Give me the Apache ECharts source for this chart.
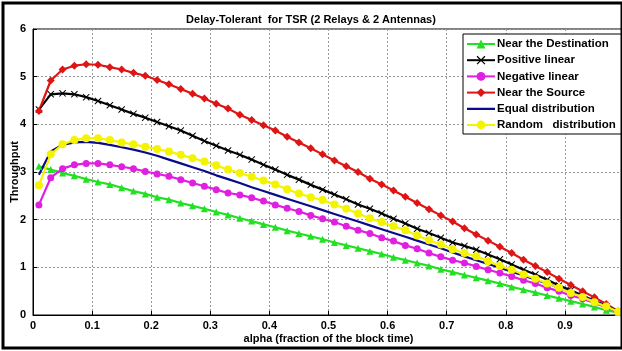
<!DOCTYPE html>
<html>
<head>
<meta charset="utf-8">
<script src="https://cdn.jsdelivr.net/npm/echarts@6/dist/echarts.min.js"></script>
<style>
  html, body { margin: 0; padding: 0; background: #fff; }
  #chart { width: 622px; height: 351px; }
</style>
</head>
<body>
<div id="chart"></div>
<script>
// alpha = fraction of the block time given to energy harvesting
var alpha = [0.01, 0.03, 0.05, 0.07, 0.09, 0.11, 0.13, 0.15, 0.17, 0.19,
             0.21, 0.23, 0.25, 0.27, 0.29, 0.31, 0.33, 0.35, 0.37, 0.39,
             0.41, 0.43, 0.45, 0.47, 0.49, 0.51, 0.53, 0.55, 0.57, 0.59,
             0.61, 0.63, 0.65, 0.67, 0.69, 0.71, 0.73, 0.75, 0.77, 0.79,
             0.81, 0.83, 0.85, 0.87, 0.89, 0.91, 0.93, 0.95, 0.97, 0.99];

var nearDestination = [3.12, 3.05, 2.98, 2.92, 2.85, 2.79, 2.74, 2.67, 2.60, 2.54,
                       2.47, 2.42, 2.35, 2.29, 2.23, 2.16, 2.10, 2.03, 1.97, 1.90,
                       1.84, 1.77, 1.71, 1.65, 1.59, 1.52, 1.46, 1.40, 1.34, 1.28,
                       1.21, 1.15, 1.09, 1.03, 0.96, 0.90, 0.84, 0.78, 0.72, 0.66,
                       0.59, 0.53, 0.47, 0.41, 0.35, 0.29, 0.23, 0.17, 0.10, 0.05];

var positiveLinear = [4.31, 4.63, 4.65, 4.63, 4.57, 4.49, 4.40, 4.31, 4.22, 4.14,
                      4.05, 3.96, 3.87, 3.76, 3.65, 3.55, 3.45, 3.36, 3.26, 3.15,
                      3.05, 2.94, 2.84, 2.73, 2.63, 2.53, 2.43, 2.32, 2.23, 2.13,
                      2.02, 1.92, 1.81, 1.72, 1.62, 1.52, 1.45, 1.37, 1.27, 1.17,
                      1.06, 0.95, 0.85, 0.74, 0.62, 0.52, 0.41, 0.29, 0.18, 0.07];

var negativeLinear = [2.31, 2.88, 3.07, 3.15, 3.18, 3.18, 3.15, 3.11, 3.07, 3.01,
                      2.96, 2.91, 2.84, 2.77, 2.70, 2.63, 2.56, 2.52, 2.46, 2.39,
                      2.31, 2.24, 2.17, 2.09, 2.02, 1.95, 1.86, 1.78, 1.71, 1.62,
                      1.55, 1.46, 1.39, 1.30, 1.22, 1.15, 1.09, 1.02, 0.95, 0.88,
                      0.81, 0.73, 0.66, 0.57, 0.50, 0.41, 0.34, 0.25, 0.17, 0.07];

var nearSource = [4.28, 4.92, 5.15, 5.23, 5.26, 5.25, 5.20, 5.15, 5.08, 5.02,
                  4.93, 4.84, 4.74, 4.64, 4.54, 4.43, 4.33, 4.20, 4.09, 3.98,
                  3.87, 3.74, 3.62, 3.50, 3.37, 3.24, 3.12, 3.00, 2.86, 2.74,
                  2.61, 2.48, 2.35, 2.22, 2.09, 1.96, 1.82, 1.69, 1.56, 1.43,
                  1.30, 1.16, 1.03, 0.90, 0.76, 0.63, 0.50, 0.37, 0.23, 0.08];

var equalDistribution = [2.94, 3.43, 3.57, 3.62, 3.63, 3.61, 3.57, 3.52, 3.47, 3.41,
                         3.34, 3.26, 3.18, 3.10, 3.02, 2.93, 2.85, 2.77, 2.68, 2.60,
                         2.52, 2.44, 2.36, 2.28, 2.20, 2.12, 2.04, 1.96, 1.88, 1.80,
                         1.72, 1.64, 1.56, 1.48, 1.40, 1.31, 1.23, 1.15, 1.07, 0.99,
                         0.91, 0.83, 0.74, 0.66, 0.57, 0.49, 0.40, 0.30, 0.20, 0.07];

var randomDistribution = [2.72, 3.37, 3.58, 3.67, 3.71, 3.71, 3.67, 3.62, 3.58, 3.53,
                          3.48, 3.43, 3.36, 3.29, 3.22, 3.14, 3.05, 2.98, 2.90, 2.82,
                          2.74, 2.64, 2.55, 2.47, 2.41, 2.32, 2.23, 2.13, 2.03, 1.95,
                          1.86, 1.78, 1.67, 1.57, 1.48, 1.38, 1.30, 1.23, 1.13, 1.03,
                          0.95, 0.85, 0.76, 0.66, 0.57, 0.46, 0.38, 0.27, 0.18, 0.07];

var seriesNames = ['Near the Destination', 'Positive linear', 'Negative linear',
                   'Near the Source', 'Equal distribution', 'Random   distribution'];

var xTicks = [0, 0.1, 0.2, 0.3, 0.4, 0.5, 0.6, 0.7, 0.8, 0.9];
var yTicks = [0, 1, 2, 3, 4, 5, 6];

function pairs(vals) {
  return vals.map(function (v, i) { return [alpha[i], v]; });
}

var FONT = 'Arial, "Liberation Sans", sans-serif';
var crossPath = 'path://M0,1L1,0L5,4L9,0L10,1L6,5L10,9L9,10L5,6L1,10L0,9L4,5Z';
// plain line legend icon (tiny corner dots keep the bounding box full height)
var plainLineIcon = 'path://M0,0L0.01,0L0.01,0.01Z M0,4.4L28,4.4L28,6.6L0,6.6Z M27.99,10.99L28,10.99L28,11Z';

function lineSeries(name, vals, color, symbol, size) {
  return {
    name: name,
    type: 'line',
    data: pairs(vals),
    symbol: symbol,
    symbolSize: size,
    showSymbol: symbol !== 'none',
    lineStyle: { color: color, width: 2.2 },
    itemStyle: { color: color },
    emphasis: { disabled: true },
    animation: false
  };
}

var legendData = seriesNames.map(function (n, i) {
  return i === 4 ? { name: n, icon: plainLineIcon } : { name: n };
});

var chart = echarts.init(document.getElementById('chart'), null, { renderer: 'canvas' });

chart.setOption({
  backgroundColor: '#fff',
  animation: false,
  title: {
    text: 'Delay-Tolerant  for TSR (2 Relays & 2 Antennas)',
    left: 'center',
    top: 9,
    textStyle: { fontFamily: FONT, fontSize: 11, fontWeight: 'bold', color: '#000' }
  },
  grid: {
    left: 33, top: 29, width: 591, height: 286,
    outerBoundsMode: 'none',
    containLabel: false,
    show: true, borderColor: '#000', borderWidth: 1, backgroundColor: '#fff'
  },
  legend: {
    orient: 'vertical',
    left: 463, top: 34,
    data: legendData,
    backgroundColor: '#fff',
    borderColor: '#000',
    borderWidth: 1,
    borderRadius: 0,
    padding: [4, 6, 3, 3],
    itemWidth: 28,
    itemHeight: 11,
    itemGap: 4.2,
    textStyle: { fontFamily: FONT, fontSize: 11.5, fontWeight: 'bold', color: '#000', padding: [0, 0, 0, -3] }
  },
  xAxis: {
    type: 'value',
    min: 0, max: 1, interval: 0.1,
    name: 'alpha (fraction of the block time)',
    nameLocation: 'middle',
    nameGap: 18,
    nameMoveOverlap: false,
    nameTextStyle: { fontFamily: FONT, fontSize: 11, fontWeight: 'bold', color: '#000' },
    axisLine: { show: true, lineStyle: { color: '#000', width: 1 } },
    axisTick: { show: true, inside: true, length: 4, lineStyle: { color: '#000' } },
    axisLabel: {
      fontFamily: FONT, fontSize: 11, fontWeight: 'bold', color: '#000', margin: 5,
      formatter: function (v) {
        var r = Math.round(v * 10) / 10;
        return xTicks.indexOf(r) >= 0 ? String(r) : '';
      }
    },
    splitLine: { show: true, lineStyle: { color: '#999', type: [2, 2], width: 1 } }
  },
  yAxis: {
    type: 'value',
    min: 0, max: 6, interval: 1,
    name: 'Throughput',
    nameLocation: 'middle',
    nameGap: 13,
    nameMoveOverlap: false,
    nameRotate: 90,
    nameTextStyle: { fontFamily: FONT, fontSize: 11, fontWeight: 'bold', color: '#000' },
    axisLine: { show: true, lineStyle: { color: '#000', width: 1 } },
    axisTick: { show: true, inside: true, length: 4, lineStyle: { color: '#000' } },
    axisLabel: {
      fontFamily: FONT, fontSize: 11, fontWeight: 'bold', color: '#000', margin: 7,
      formatter: function (v) { return yTicks.indexOf(v) >= 0 ? String(v) : ''; }
    },
    splitLine: { show: true, lineStyle: { color: '#999', type: [2, 2], width: 1 } }
  },
  graphic: [{
    type: 'rect',
    shape: { x: 3, y: 3, width: 619, height: 345 },
    style: { fill: 'none', stroke: '#000', lineWidth: 3 },
    silent: true,
    z: 100
  }],
  series: [
    lineSeries(seriesNames[0], nearDestination, '#22e022', 'triangle', 7),
    lineSeries(seriesNames[1], positiveLinear, '#000000', crossPath, 7),
    lineSeries(seriesNames[2], negativeLinear, '#e020e0', 'circle', 7),
    lineSeries(seriesNames[3], nearSource, '#dd1515', 'diamond', 8),
    lineSeries(seriesNames[4], equalDistribution, '#0a0a8a', 'none', 0),
    lineSeries(seriesNames[5], randomDistribution, '#f4f400', 'circle', 8)
  ]
});
</script>
</body>
</html>
